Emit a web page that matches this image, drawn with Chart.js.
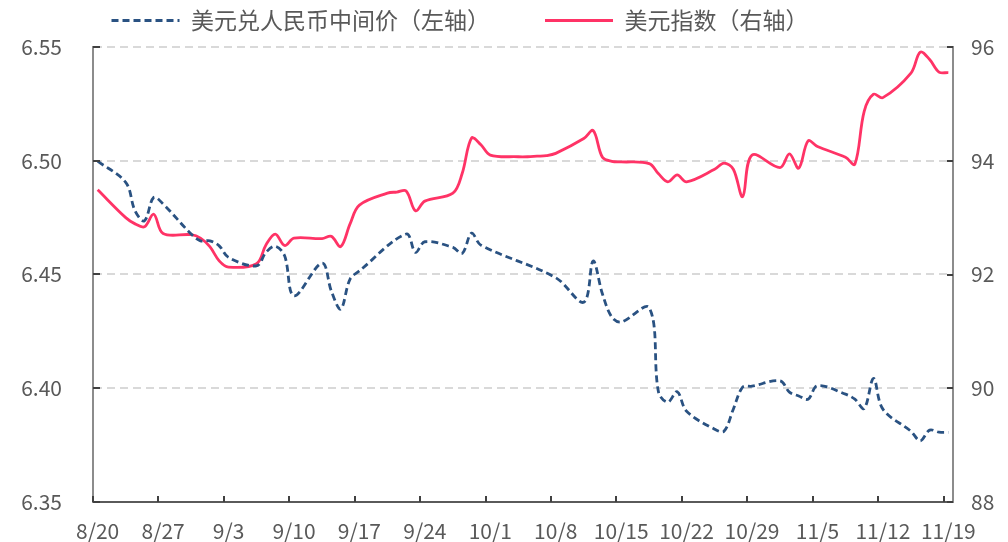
<!DOCTYPE html>
<html>
<head>
<meta charset="utf-8">
<script src="https://cdn.jsdelivr.net/npm/chart.js@4.4.0/dist/chart.umd.min.js"></script>
<style>
    html, body { margin: 0; padding: 0; background: #fff; overflow: hidden; }
    #wrap { position: relative; width: 1008px; height: 542px; }
</style>
</head>
<body>
<div id="wrap"><canvas id="graficoUsd"></canvas></div>
<script>
// Datas de negociação (2021) e valores
const tradeDates = [
    '8/20', '8/23', '8/24', '8/25', '8/26', '8/27', '8/30', '8/31',
    '9/1', '9/2', '9/3', '9/6', '9/7', '9/8', '9/9', '9/10',
    '9/13', '9/14', '9/15', '9/16', '9/17', '9/20', '9/21', '9/22', '9/23', '9/24',
    '9/27', '9/28', '9/29', '9/30', '10/1', '10/4', '10/5', '10/6', '10/7', '10/8',
    '10/11', '10/12', '10/13', '10/14', '10/15', '10/18', '10/19', '10/20', '10/21', '10/22',
    '10/25', '10/26', '10/27', '10/28', '10/29', '11/1', '11/2', '11/3', '11/4', '11/5',
    '11/8', '11/9', '11/10', '11/11', '11/12', '11/15', '11/16', '11/17', '11/18', '11/19'
];

// 美元兑人民币中间价 (null = feriado na China)
const cnyMid = [
    6.4998, 6.4905, 6.4780, 6.4736, 6.4839, 6.4810, 6.4678, 6.4648,
    6.4648, 6.4626, 6.4575, 6.4538, 6.4597, 6.4624, 6.4582, 6.4406,
    6.4550, 6.4427, 6.4348, 6.4480, 6.4516, null, null, 6.4678, 6.4597, 6.4644,
    6.4619, 6.4593, 6.4682, 6.4629, null, null, null, null, null, 6.4486,
    6.4378, 6.4559, 6.4414, 6.4313, 6.4291, 6.4354, 6.3982, 6.3939, 6.3985, 6.3899,
    6.3820, 6.3811, 6.3908, 6.4005, 6.4009, 6.4033, 6.3983, 6.3966, 6.3952, 6.4011,
    6.3974, 6.3952, 6.3911, 6.4043, 6.3908, 6.3811, 6.3769, 6.3816, 6.3807, 6.3806
];

// 美元指数
const dxyIndex = [
    93.49, 93.00, 92.89, 92.84, 93.06, 92.72, 92.70, 92.64,
    92.49, 92.24, 92.13, 92.19, 92.52, 92.71, 92.51, 92.64,
    92.63, 92.67, 92.49, 92.89, 93.22, 93.43, 93.45, 93.47, 93.12, 93.29,
    93.43, 93.78, 94.40, 94.28, 94.10, 94.07, 94.07, 94.08, 94.09, 94.13,
    94.39, 94.53, 94.06, 93.99, 93.98, 93.95, 93.77, 93.63, 93.75, 93.63,
    93.85, 93.96, 93.85, 93.37, 94.10, 93.88, 94.12, 93.87, 94.35, 94.25,
    94.06, 93.94, 94.87, 95.17, 95.11, 95.54, 95.91, 95.78, 95.56, 95.55
];

const weekTicks = ['8/20', '8/27', '9/3', '9/10', '9/17', '9/24', '10/1', '10/8',
    '10/15', '10/22', '10/29', '11/5', '11/12', '11/19'];

const leftTicks = [6.35, 6.40, 6.45, 6.50, 6.55];
const rightTicks = [88, 90, 92, 94, 96];

// eixo x: todos os dias do calendário
const allDays = [];
for (let d = new Date(2021, 7, 20); d <= new Date(2021, 10, 19); d.setDate(d.getDate() + 1)) {
    allDays.push((d.getMonth() + 1) + '/' + d.getDate());
}

const toPoints = (values) => tradeDates
    .map((dia, i) => ({ x: dia, y: values[i] }))
    .filter(p => p.y !== null);

const textColor = '#595959';
const fontFamily = "'Noto Sans CJK SC', 'Noto Sans', sans-serif";

// legenda: altura fixa e deslocamento para bater com a figura
const legendLayout = {
    id: 'legendLayout',
    afterInit(chart) {
        const fit = chart.legend.fit;
        chart.legend.fit = function () {
            fit.call(this);
            this.height = 47;
        };
    },
    afterLayout(chart) {
        const lg = chart.legend;
        lg.left -= 44;
        lg.right -= 44;
        lg.top = -46;
    }
};

// marcas de escala voltadas para dentro
const inwardTicks = {
    id: 'inwardTicks',
    afterDraw(chart) {
        const { ctx, chartArea: a, scales: { x, y, y1 } } = chart;
        ctx.save();
        ctx.lineWidth = 2;
        ctx.strokeStyle = '#404040';
        ctx.beginPath();
        leftTicks.forEach(v => {
            const py = Math.round(y.getPixelForValue(v));
            ctx.moveTo(a.left, py);
            ctx.lineTo(a.left + 7, py);
        });
        rightTicks.forEach(v => {
            const py = Math.round(y1.getPixelForValue(v));
            ctx.moveTo(a.right, py);
            ctx.lineTo(a.right - 6, py);
        });
        weekTicks.forEach(lbl => {
            const px = Math.round(x.getPixelForValue(allDays.indexOf(lbl) - 0.5));
            ctx.moveTo(px, a.bottom);
            ctx.lineTo(px, a.bottom - 6);
        });
        ctx.stroke();
        ctx.restore();
    }
};

// largura fixa do eixo sem reservar espaço extra em cima/baixo
const fixWidth = w => s => {
    s.width = w;
    s.paddingTop = 0;
    s.paddingBottom = 0;
};

const ctx = document.getElementById('graficoUsd').getContext('2d');

new Chart(ctx, {
    type: 'line',
    data: {
        labels: allDays,
        datasets: [
            {
                label: '美元兑人民币中间价（左轴）',
                data: toPoints(cnyMid),
                yAxisID: 'y',
                borderColor: '#2a5282',
                backgroundColor: '#2a5282',
                borderWidth: 2.8,
                borderDash: [7, 4],
                pointRadius: 0,
                pointStyle: 'line',
                tension: 0.35,
                fill: false,
            },
            {
                label: '美元指数（右轴）',
                data: toPoints(dxyIndex),
                yAxisID: 'y1',
                borderColor: '#ff3366',
                backgroundColor: '#ff3366',
                borderWidth: 2.8,
                pointRadius: 0,
                pointStyle: 'line',
                tension: 0.35,
                fill: false,
            },
        ],
    },
    options: {
        responsive: true,
        maintainAspectRatio: false,
        animation: false,
        layout: { padding: 0 },
        plugins: {
            tooltip: { enabled: false },
            legend: {
                position: 'top',
                labels: {
                    usePointStyle: true,
                    pointStyleWidth: 68,
                    padding: 55,
                    color: textColor,
                    font: { family: fontFamily, size: 23 },
                    generateLabels: chart => Chart.defaults.plugins.legend.labels.generateLabels(chart).map(item => {
                        const ds = chart.data.datasets[item.datasetIndex];
                        item.lineDash = ds.borderDash || [];
                        item.lineWidth = ds.borderWidth;
                        item.strokeStyle = ds.borderColor;
                        return item;
                    }),
                },
            },
        },
        scales: {
            x: {
                type: 'category',
                offset: true,
                grid: { display: false, drawTicks: false },
                border: { color: '#5a5a5a', width: 2 },
                ticks: {
                    autoSkip: false,
                    maxRotation: 0,
                    padding: 16,
                    color: textColor,
                    font: { family: fontFamily, size: 21 },
                    callback: function (value) {
                        const lbl = this.getLabelForValue(value);
                        return weekTicks.includes(lbl) ? lbl : '';
                    },
                },
                afterFit: s => { s.height = 40; },
            },
            y: {
                position: 'left',
                min: 6.35,
                max: 6.55,
                afterBuildTicks: s => { s.ticks = leftTicks.map(v => ({ value: v })); },
                ticks: {
                    padding: 31,
                    color: textColor,
                    font: { family: fontFamily, size: 21 },
                    callback: v => v.toFixed(2),
                },
                grid: {
                    color: c => (c.tick && c.tick.value > 6.36 ? '#d9d9d9' : 'rgba(0,0,0,0)'),
                    lineWidth: 2,
                    drawTicks: false,
                },
                border: { color: '#8c8c8c', width: 2, dash: [8, 5] },
                afterFit: fixWidth(93),
            },
            y1: {
                position: 'right',
                min: 88,
                max: 96,
                afterBuildTicks: s => { s.ticks = rightTicks.map(v => ({ value: v })); },
                ticks: {
                    padding: 18,
                    color: textColor,
                    font: { family: fontFamily, size: 21 },
                },
                grid: { drawOnChartArea: false, drawTicks: false },
                border: { color: '#8c8c8c', width: 2 },
                afterFit: fixWidth(55),
            },
        },
    },
    plugins: [legendLayout, inwardTicks],
});
</script>
</body>
</html>
